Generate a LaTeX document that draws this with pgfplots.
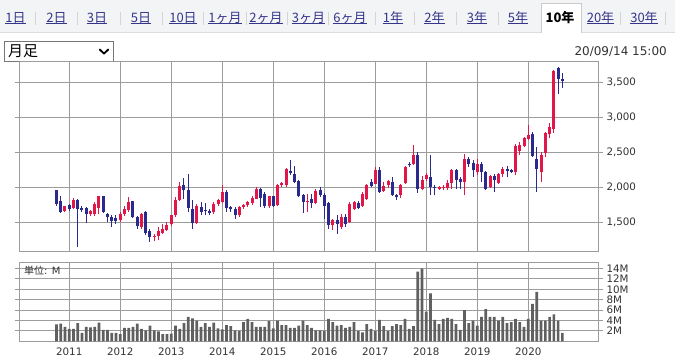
\documentclass[border=0pt]{standalone}
\usepackage{fontspec}
\setmainfont{DejaVu Sans}
\newfontfamily\cjk{Noto Sans CJK JP}
\usepackage{pgfplots}
\pgfplotsset{compat=1.18}
\usepackage{pgfplotstable}
\definecolor{upc}{HTML}{E3164A}
\definecolor{dnc}{HTML}{2A2A8E}
\definecolor{gridc}{HTML}{9C9C9C}
\definecolor{volc}{HTML}{606060}
\definecolor{linkc}{HTML}{35358A}
\definecolor{labc}{HTML}{333333}
\definecolor{tabbg}{HTML}{F3F4F6}
\definecolor{sepc}{HTML}{D4D4D4}
\definecolor{barline}{HTML}{DDDDDD}
\definecolor{tabline}{HTML}{CCCCCC}
\definecolor{boxline}{HTML}{767676}

% monthly candles, k = months since Jan 2011
\pgfplotstableread{
k o h l c
-1 1665 1740 1645 1730
1 1710 1852 1690 1824
5 1625 1670 1590 1657
6 1615 1790 1590 1767
7 1710 1880 1620 1871
12 1530 1650 1500 1625
13 1614 1740 1590 1686
14 1671 1860 1650 1790
17 1433 1640 1410 1624
20 1290 1330 1230 1310
21 1300 1435 1245 1370
22 1350 1470 1330 1410
23 1390 1500 1370 1460
24 1470 1610 1450 1600
25 1600 1860 1580 1824
26 1814 2075 1800 2014
30 1495 1760 1480 1733
34 1647 1790 1620 1767
35 1767 1840 1740 1814
36 1790 2029 1770 1933
40 1600 1730 1580 1719
41 1720 1760 1690 1743
42 1743 1800 1720 1790
43 1776 1870 1750 1852
44 1838 2000 1830 1981
47 1729 1880 1710 1871
49 1743 2052 1730 2029
50 2029 2080 2000 2062
51 2029 2280 2010 2267
56 1795 1910 1650 1810
58 1776 1980 1760 1943
62 1462 1550 1390 1529
64 1433 1620 1410 1576
66 1500 1790 1490 1757
67 1695 1800 1680 1790
69 1729 1930 1720 1900
70 1838 2040 1820 2029
72 2052 2290 2040 2243
74 1947 2076 1930 2019
75 2029 2100 1990 2090
78 1886 2050 1850 2029
79 2062 2300 2050 2290
81 2338 2600 2320 2457
83 1981 2160 1960 2110
84 2124 2210 2090 2175
87 1981 2015 1960 2000
88 1990 2030 1960 2010
89 1990 2110 1960 2060
90 2060 2267 1981 2243
93 2076 2470 1886 2410
96 2219 2410 2180 2329
99 2005 2170 1990 2157
101 2062 2200 2040 2186
102 2186 2290 2150 2267
105 2219 2624 2171 2586
106 2519 2650 2460 2600
107 2586 2720 2570 2710
108 2695 2886 2680 2743
111 2219 2505 2076 2467
112 2490 2790 2433 2776
113 2757 2920 2700 2862
114 2838 3681 2776 3657
}\uptab

\pgfplotstableread{
k o h l c
-3 1957 1965 1740 1767
-2 1805 1880 1630 1650
0 1745 1765 1660 1688
2 1814 1830 1150 1695
3 1710 1730 1650 1672
4 1710 1720 1490 1615
8 1871 1875 1640 1650
9 1625 1640 1500 1570
10 1576 1600 1440 1519
11 1565 1600 1480 1520
15 1800 1810 1560 1580
16 1570 1590 1410 1445
18 1650 1660 1320 1347
19 1376 1400 1220 1290
27 2029 2133 1830 1967
28 1967 2186 1647 1705
29 1686 1814 1410 1490
31 1719 1790 1600 1650
32 1680 1780 1600 1655
33 1660 1690 1600 1630
37 1933 1955 1650 1700
38 1719 1740 1650 1695
39 1695 1720 1552 1600
45 1981 1995 1720 1852
46 1910 1930 1710 1729
48 1871 1880 1720 1738
52 2229 2386 2180 2210
53 2195 2300 2060 2076
54 2090 2100 1860 1871
55 1886 1900 1633 1795
57 1838 1900 1710 1776
59 1957 2005 1860 1886
60 1886 1920 1552 1740
61 1776 1790 1410 1462
63 1529 1600 1338 1481
65 1576 1620 1440 1481
68 1776 1810 1690 1710
71 2076 2120 2000 2024
73 2243 2290 1920 1933
76 2076 2140 1880 1886
77 1886 1910 1820 1860
80 2338 2360 2290 2314
82 2457 2500 1920 1981
85 2148 2467 1886 2005
86 2010 2030 1886 1990
91 2243 2260 1980 2110
92 2124 2150 1981 2076
94 2400 2430 2290 2338
95 2352 2390 2140 2243
97 2329 2360 2076 2219
98 2219 2230 1960 1981
100 2157 2195 1930 2110
103 2267 2300 2140 2233
104 2243 2260 2200 2219
109 2757 2790 2433 2443
110 2410 2576 1933 2267
115 3710 3720 3338 3552
116 3543 3633 3424 3519
}\dntab

\pgfplotstableread{
k v
-3 3.27
-2 3.4
-1 2.8
0 2.4
1 2.4
2 3.5
3 1.6
4 2.8
5 2.7
6 2.8
7 3.6
8 2.2
9 2.2
10 1.6
11 1.6
12 1.4
13 2.6
14 2.6
15 2.8
16 3.4
17 2.4
18 2.1
19 3.0
20 2.1
21 1.9
22 1.4
23 1.4
24 1.5
25 3.0
26 2.4
27 3.5
28 4.7
29 4.4
30 4.0
31 2.8
32 3.5
33 2.8
34 3.6
35 2.5
36 2.3
37 3.1
38 2.9
39 2.1
40 2.0
41 3.7
42 4.3
43 3.7
44 2.8
45 2.8
46 2.8
47 3.9
48 2.5
49 4.0
50 3.1
51 3.1
52 2.6
53 2.6
54 3.0
55 4.0
56 3.1
57 2.6
58 2.1
59 2.1
60 2.0
61 4.3
62 3.7
63 3.0
64 3.1
65 2.6
66 2.8
67 3.7
68 2.0
69 1.7
70 3.3
71 2.4
72 2.0
73 4.1
74 2.9
75 2.0
76 2.9
77 3.3
78 3.1
79 4.3
80 2.4
81 2.9
82 13.4
83 14.0
84 5.7
85 9.2
86 4.1
87 3.3
88 4.3
89 4.5
90 4.3
91 3.3
92 2.2
93 6.0
94 3.5
95 4.0
96 3.0
97 4.7
98 6.2
99 4.7
100 4.7
101 4.0
102 4.7
103 3.5
104 3.7
105 4.3
106 3.7
107 2.8
108 4.3
109 7.2
110 9.5
111 4.0
112 4.0
113 4.7
114 5.2
115 4.0
116 1.6
}\voltab

\pgfplotsset{
  chartbase/.style={
    scale only axis, width=578.5bp, anchor=south west,
    xmin=-11.7, xmax=124.4,
    axis line style={draw=gridc, line width=0.9bp},
    grid style={draw=gridc, line width=0.9bp},
    xtick={0,12,...,108}, xmajorgrids, ymajorgrids,
    yticklabel pos=right,
    tick align=outside, major tick length=5bp,
    tick style={draw=gridc, line width=0.9bp},
    x tick style={draw=none},
    ticklabel style={font=\fontsize{10.3bp}{12bp}\selectfont, text=labc},
    /pgf/number format/assume math mode=true,
  },
  wick/.style={draw=none, forget plot,
    error bars/.cd, y dir=plus, y explicit, error mark=none,
    error bar style={draw=#1, line width=1bp}},
  body/.style={draw=none, forget plot,
    error bars/.cd, y dir=plus, y explicit, error mark=none,
    error bar style={draw=#1, line width=3bp}},
}

\newcommand{\tab}[2]{%
  \node[inner sep=0, anchor=base, text=linkc, font=\cjk\fontsize{13bp}{15bp}\selectfont] (t) at (#1,22) {#2};
  \draw[linkc, line width=0.8bp] ([yshift=-1.8bp]t.base west) -- ([yshift=-1.8bp]t.base east);
}

\begin{document}
\begin{tikzpicture}
\useasboundingbox (0,0) rectangle (675bp,-355bp);
\fill[white] (0,0) rectangle (675bp,-355bp);

\begin{scope}[x=1bp, y=-1bp]
  % tab bar
  \fill[tabbg] (0,0) rectangle (675,32.5);
  \draw[barline, line width=0.8bp] (0,32.5) -- (675,32.5);
  \fill[white] (541,3) rectangle (581,33.2);
  \draw[tabline, line width=0.8bp] (541,33) -- (541,3) -- (581,3) -- (581,33);
  \foreach \sx in {35,77,120,162,203,246,287,328,375,414,456,498,620,665}
    \draw[sepc, line width=0.8bp] (\sx,12) -- (\sx,25);
  \tab{15.5}{1日}
  \tab{56.5}{2日}
  \tab{97}{3日}
  \tab{141}{5日}
  \tab{183}{10日}
  \tab{225}{1ヶ月}
  \tab{266}{2ヶ月}
  \tab{308.5}{3ヶ月}
  \tab{350}{6ヶ月}
  \tab{393}{1年}
  \tab{434.5}{2年}
  \tab{477}{3年}
  \tab{518}{5年}
  \node[inner sep=0, anchor=base, text=black, font=\cjk\bfseries\fontsize{13bp}{15bp}\selectfont] at (560,22) {10年};
  \tab{600.5}{20年}
  \tab{644}{30年}
  % dropdown
  \draw[boxline, line width=1bp] (4,41.7) rectangle (113.3,61);
  \node[inner sep=0, anchor=base west, font=\cjk\fontsize{15bp}{17bp}\selectfont] at (8,56) {月足};
  \draw[black, line width=1.9bp, line cap=round, line join=round] (99.8,49.5) -- (104,53.6) -- (108.2,49.5);
  % date
  \node[inner sep=0, anchor=base east, text=labc, font=\fontsize{12bp}{14bp}\selectfont] at (667,55) {20/09/14 15:00};
\end{scope}

% price panel
\begin{axis}[chartbase, at={(19.5bp,-251bp)}, height=189.5bp,
  ymin=1090, ymax=3797, ytick={1500,2000,...,3500}, xticklabels={},
  /pgf/number format/.cd, 1000 sep={,}]
  \addplot[wick=upc] table[x=k, y=l, y error plus expr=\thisrow{h}-\thisrow{l}] {\uptab};
  \addplot[wick=dnc] table[x=k, y=l, y error plus expr=\thisrow{h}-\thisrow{l}] {\dntab};
  \addplot[body=upc] table[x=k, y=o, y error plus expr=\thisrow{c}-\thisrow{o}] {\uptab};
  \addplot[body=dnc] table[x=k, y=c, y error plus expr=\thisrow{o}-\thisrow{c}] {\dntab};
\end{axis}

% volume panel
\begin{axis}[chartbase, at={(19.5bp,-341.3bp)}, height=79bp,
  ymin=0, ymax=15.2, ytick={2,4,...,14}, yticklabels={2M,4M,6M,8M,10M,12M,14M},
  xticklabels={2011,2012,2013,2014,2015,2016,2017,2018,2019,2020},
  xticklabel style={inner sep=0pt, anchor=base, yshift=-9.5bp},
  ybar, bar width=2.6bp]
  \addplot[fill=volc, draw=none] table[x=k, y=v] {\voltab};
\end{axis}

\begin{scope}[x=1bp, y=-1bp]
  \node[inner sep=0, anchor=base west, text=labc, font=\fontsize{10bp}{12bp}\selectfont] at (24,274) {{\cjk 単位}: M};
\end{scope}
\end{tikzpicture}
\end{document}
